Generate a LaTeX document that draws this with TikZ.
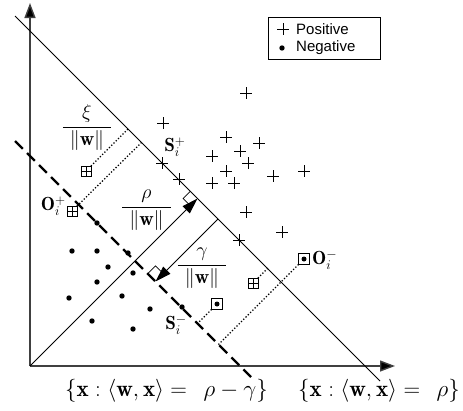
\RequirePackage{fix-cm}
\documentclass[tikz,border=0pt]{standalone}
\usepackage{fontspec}
\newfontfamily\legendfont{Liberation Sans}
\usetikzlibrary{arrows.meta}
\begin{document}
\begin{tikzpicture}[x=1pt,y=-1pt,
  axisline/.style={line width=1.4pt, draw=black!75, -{Triangle[length=15pt,width=11pt,fill=black]}},
  thinline/.style={line width=0.8pt},
  dashline/.style={line width=2.3pt, dash pattern=on 11pt off 6pt},
  dotline/.style={line width=1.8pt, dash pattern=on 0pt off 3.2pt, line cap=round},
  normarrow/.style={line width=0.8pt, -{Triangle[length=16pt,width=10pt]}},
  pluspt/.style={inner sep=0pt, minimum size=12pt,
    path picture={\draw[line width=0.8pt] (path picture bounding box.north) -- (path picture bounding box.south)
      (path picture bounding box.west) -- (path picture bounding box.east);}},
  negpt/.style={circle, fill, inner sep=0pt, minimum size=5.4pt},
  bplus/.style={draw, line width=0.7pt, inner sep=0pt, minimum size=10pt,
    path picture={\draw[line width=0.7pt] (path picture bounding box.north) -- (path picture bounding box.south)
      (path picture bounding box.west) -- (path picture bounding box.east);}},
  bdot/.style={draw, line width=0.8pt, inner sep=0pt, minimum size=11pt,
    path picture={\fill (path picture bounding box.center) circle (2.5pt);}},
  fraclbl/.style={font=\fontsize{20}{24}\selectfont, inner sep=0pt, anchor=base},
  mathlbl/.style={font=\fontsize{19}{22}\selectfont, inner sep=0pt},
  biglbl/.style={font=\fontsize{23}{26}\selectfont, inner sep=0pt},
  leglbl/.style={font=\legendfont\fontsize{15}{17}\selectfont, inner sep=0pt, anchor=west}
]
\useasboundingbox (0,0) rectangle (463,410);

% coordinates
\coordinate (O) at (30,366);
\coordinate (ytop) at (30,3);
\coordinate (xend) at (395,366);
\coordinate (A1) at (15,16);
\coordinate (A2) at (380,381);
\coordinate (B1) at (15,141);
\coordinate (B2) at (251,377);
\coordinate (F) at (197.5,198.5);
\coordinate (G0) at (218,219);
\coordinate (G) at (155.5,281.5);

% axes
\draw[axisline] (O) -- (ytop);
\draw[axisline] (O) -- (xend);

% hyperplanes
\draw[thinline] (A1) -- (A2);
\draw[dashline] (B1) -- (B2);

% normal arrows
\draw[normarrow] (O) -- (F);
\draw[normarrow] (G0) -- (G);
\draw[line width=0.7pt] (190.3,191.3) -- (183.1,198.5) -- (190.3,205.7);
\draw[line width=0.7pt] (147.7,273.7) -- (155.5,265.9) -- (163.3,273.7);

% positive points
\foreach \x/\y [count=\i] in {163/123,162/163,179/179,246/93,226/137,259/143,240/151,212/156,248/163,226/171,273/176,304/171,212/183,234/183,246/212,282/232,239/240}
  \node[pluspt] (p\i) at (\x,\y) {};

% negative points
\foreach \x/\y [count=\i] in {97/223,72/251,97/251,128/253,108/267,133/273,97/282,69/298,122/296,150/309,92/321,133/329,182/307}
  \node[negpt] (n\i) at (\x,\y) {};

% special points
\node[bplus] (bp1) at (86,171) {};
\node[bplus] (oplus) at (72,211) {};
\node[bplus] (bp3) at (253,283) {};
\node[bdot] (bd1) at (217,304) {};
\node[bdot] (ominus) at (304,259) {};

\coordinate (f1) at (128,129);
\coordinate (f2) at (141.5,142.5);
\coordinate (f3) at (267.5,268.5);
\coordinate (f4) at (197.5,323.5);
\coordinate (f5) at (218.5,344.5);
\draw[dotline] (bp1) -- (f1);
\draw[dotline] (oplus) -- (f2);
\draw[dotline] (bp3) -- (f3);
\draw[dotline] (bd1) -- (f4);
\draw[dotline] (ominus) -- (f5);

% labels
\node[fraclbl] (fxi) at (87,132) {$\displaystyle\frac{\xi}{\hspace{7pt}\|\mathbf{w}\|\hspace{7pt}}$};
\node[fraclbl] (frho) at (146.5,212) {$\displaystyle\frac{\rho}{\hspace{7pt}\|\mathbf{w}\|\hspace{7pt}}$};
\node[fraclbl] (fgam) at (202,270) {$\displaystyle\frac{\gamma}{\hspace{7pt}\|\mathbf{w}\|\hspace{7pt}}$};
\node[mathlbl] (lsp) at (175,147) {$\mathbf{S}_i^+$};
\node[mathlbl] (lsm) at (176,325) {$\mathbf{S}_i^-$};
\node[mathlbl, anchor=east] (lop) at (66,206) {$\mathbf{O}_i^+$};
\node[mathlbl, anchor=west] (lom) at (312,260) {$\mathbf{O}_i^-$};

\node[biglbl] (h1) at (166.5,391) {$\{\mathbf{x} : \langle\mathbf{w},\mathbf{x}\rangle =\;\, \rho - \gamma\}$};
\node[biglbl] (h2) at (379,391) {$\{\mathbf{x} : \langle\mathbf{w},\mathbf{x}\rangle =\;\, \rho\}$};

% legend
\node[draw, line width=0.8pt, minimum width=112pt, minimum height=42pt, inner sep=0pt] (leg) at (324,38) {};
\node[pluspt] (legp) at (283,29) {};
\node[negpt] (legn) at (282,48) {};
\node[leglbl] (legpt) at (296,29) {Positive};
\node[leglbl] (legnt) at (296,48) {Negative};
\end{tikzpicture}
\end{document}
